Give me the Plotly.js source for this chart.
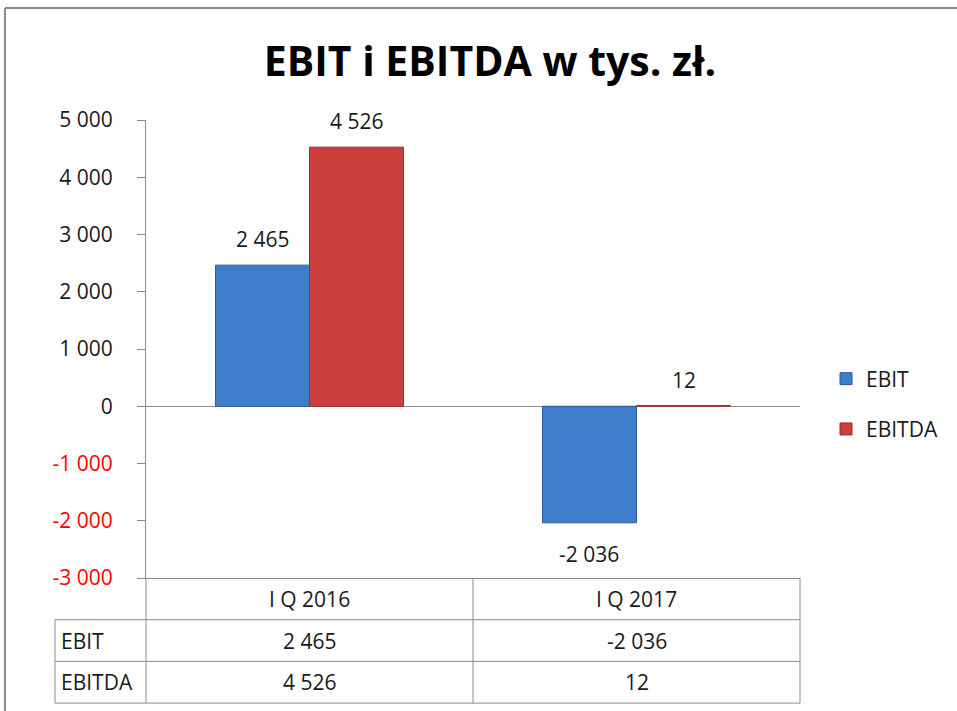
<!DOCTYPE html>
<html>
<head>
<meta charset="utf-8">
<script src="https://cdn.plot.ly/plotly-3.0.1.min.js"></script>
<style>html,body{margin:0;padding:0;background:#fff;}#chart{width:957px;height:711px;}</style>
</head>
<body>
<div id="chart"></div>
<script>
// ---- data ----
const categories = ["I Q 2016", "I Q 2017"];
const seriesNames = ["EBIT", "EBITDA"];
const ebit = [2465, -2036];
const ebitda = [4526, 12];
const yTickVals = [5000, 4000, 3000, 2000, 1000, 0, -1000, -2000, -3000];

// ---- helpers ----
function fmt(v) {
  const s = Math.abs(v).toString().replace(/\B(?=(\d{3})+(?!\d))/g, " ");
  return (v < 0 ? "-" : "") + s;
}
const W = 957, H = 711;
const L = 146, R = 800, T = 120, B = 578;
const xp = px => (px - L) / (R - L);
const yp = py => (B - py) / (B - T);

const FONT = "'Open Sans', sans-serif";
const gray = "#8c8c8c";
const txt = "#1a1a1a";
const FS = 21;
const BARGAP = 0.425;

const tickText = yTickVals.map(v => v < 0 ? '<span style="color:#ff0000">' + fmt(v) + '</span>' : fmt(v));

const seriesData = [ebit, ebitda];
const seriesColors = [
  {fill: "#3d7dca", line: "#2b5c9c"},
  {fill: "#cd3f3f", line: "#9c2c2c"}
];
const traces = seriesData.map((arr, s) => ({
  type: "bar", name: seriesNames[s], x: categories, y: arr,
  marker: {color: seriesColors[s].fill, line: {color: seriesColors[s].line, width: 1}},
  legendgroup: "g" + s, hoverinfo: "none"
}));

const shapes = [];
const annotations = [];

// data labels placed relative to bars
const colW = (R - L) / categories.length;
const barW = colW * (1 - BARGAP) / seriesData.length;
seriesData.forEach((arr, s) => {
  arr.forEach((v, i) => {
    annotations.push({
      xref: "x", yref: "y", x: categories[i], y: v,
      xshift: (s - (seriesData.length - 1) / 2) * barW,
      yshift: v < 0 ? -31 : 26,
      text: fmt(v), showarrow: false, xanchor: "center", yanchor: "middle",
      font: {family: FONT, size: FS, color: txt}
    });
  });
});

// ---- table (built from arrays) ----
const lineStyle = {color: gray, width: 1};
function hline(py, x0, x1) { shapes.push({type: "line", xref: "paper", yref: "paper", x0: xp(x0), x1: xp(x1), y0: yp(py), y1: yp(py), line: lineStyle}); }
function vline(px, y0, y1) { shapes.push({type: "line", xref: "paper", yref: "paper", x0: xp(px), x1: xp(px), y0: yp(y0), y1: yp(y1), line: lineStyle}); }
const tableLeft = 55, rowH = 41.7, headTop = B;
hline(headTop + rowH, tableLeft, R); hline(headTop + 2 * rowH, tableLeft, R); hline(headTop + 3 * rowH, tableLeft, R);
vline(tableLeft, headTop + rowH, headTop + 3 * rowH);
vline(L, headTop, headTop + 3 * rowH);
for (let i = 1; i <= categories.length; i++) vline(L + colW * i, headTop, headTop + 3 * rowH);
// outer frame
shapes.push({type: "line", xref: "paper", yref: "paper", x0: xp(5), x1: xp(W + 5), y0: yp(8), y1: yp(8), line: {color: "#8a8a8a", width: 2}});
shapes.push({type: "line", xref: "paper", yref: "paper", x0: xp(5), x1: xp(5), y0: yp(8), y1: yp(H + 5), line: {color: "#8a8a8a", width: 2}});

categories.forEach((c, i) => {
  const cx = L + colW * (i + 0.5);
  annotations.push({xref: "paper", yref: "paper", x: xp(cx), y: yp(headTop + rowH / 2), text: c, showarrow: false, xanchor: "center", yanchor: "middle", font: {family: FONT, size: FS, color: txt}});
  seriesData.forEach((arr, r) => {
    annotations.push({xref: "paper", yref: "paper", x: xp(cx), y: yp(headTop + rowH * (r + 1.5)), text: fmt(arr[i]), showarrow: false, xanchor: "center", yanchor: "middle", font: {family: FONT, size: FS, color: txt}});
  });
});
seriesNames.forEach((n, r) => {
  annotations.push({xref: "paper", yref: "paper", x: xp(tableLeft + 4), y: yp(headTop + rowH * (r + 1.5)), text: n, showarrow: false, xanchor: "left", yanchor: "middle", font: {family: FONT, size: FS, color: txt}});
});

const layout = {
  width: W, height: H,
  margin: {l: L, r: W - R, t: T, b: H - B, pad: 0},
  paper_bgcolor: "#ffffff", plot_bgcolor: "#ffffff",
  font: {family: FONT, size: FS, color: txt},
  title: {text: "<b>EBIT i EBITDA w tys. zł.</b>", x: 0.512, xanchor: "center", y: 1 - 62 / H, yanchor: "middle", yref: "container",
          font: {family: FONT, size: 41, color: "#000000"}},
  barmode: "group", bargap: BARGAP, bargroupgap: 0,
  xaxis: {showticklabels: false, showline: true, linecolor: gray, linewidth: 1, ticks: "", showgrid: false, zeroline: false, fixedrange: true},
  yaxis: {range: [-3000, 5000], tickvals: yTickVals, ticktext: tickText, ticks: "outside", ticklen: 8, tickcolor: gray,
          showline: true, linecolor: gray, linewidth: 1, showgrid: false, zeroline: true, zerolinecolor: gray, zerolinewidth: 1,
          tickfont: {family: FONT, size: FS, color: txt}, ticklabelstandoff: 20, fixedrange: true},
  showlegend: true,
  legend: {x: xp(826), xanchor: "left", y: yp(404), yanchor: "middle", traceorder: "grouped", tracegroupgap: 20,
           font: {family: FONT, size: FS, color: txt}, bgcolor: "rgba(0,0,0,0)", itemwidth: 30},
  shapes: shapes,
  annotations: annotations
};

Plotly.newPlot("chart", traces, layout, {staticPlot: true, displayModeBar: false});
</script>
</body>
</html>
